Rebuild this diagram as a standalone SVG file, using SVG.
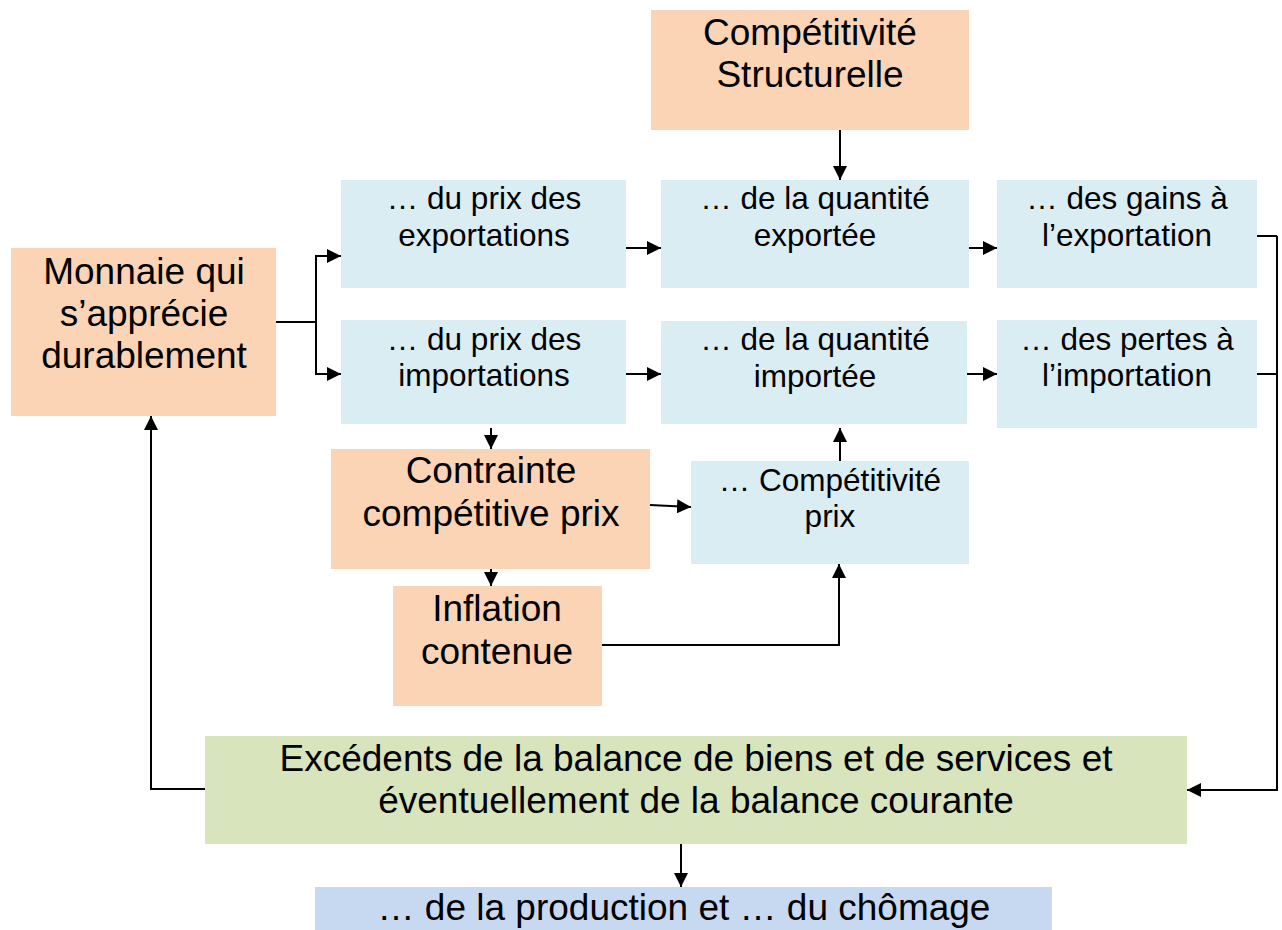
<svg xmlns="http://www.w3.org/2000/svg" width="1282" height="930" viewBox="0 0 1282 930">
<defs>
<marker id="ah" viewBox="0 0 10 10" refX="10" refY="5" markerWidth="14" markerHeight="14" markerUnits="userSpaceOnUse" orient="auto"><path d="M0,0 L10,5 L0,10 Z" fill="#000"/></marker>
<style>
.or{fill:#FAD4B4}
.bl{fill:#DAEDF3}
.gr{fill:#D7E4BC}
.bb{fill:#C6D9F1}
text{font-family:"Liberation Sans",Arial,sans-serif;fill:#000;text-anchor:middle}
.t26{font-size:31.5px}
.t32{font-size:37px}
.c{fill:none;stroke:#000;stroke-width:2}
.a{marker-end:url(#ah)}
</style>
</defs>
<rect width="1282" height="930" fill="#fff"/>
<g id="n-structurelle"><rect class="or" x="651" y="10" width="318" height="120"/><text class="t32" x="810" y="45">Compétitivité</text><text class="t32" x="810" y="87">Structurelle</text></g>
<g id="n-monnaie"><rect class="or" x="11" y="248" width="265" height="168"/><text class="t32" x="144" y="284">Monnaie qui</text><text class="t32" x="144" y="326">s’apprécie</text><text class="t32" x="144" y="368">durablement</text></g>
<g id="n-prixexp"><rect class="bl" x="341" y="180" width="285" height="108"/><text class="t26" x="484" y="209">… du prix des</text><text class="t26" x="484" y="246">exportations</text></g>
<g id="n-qteexp"><rect class="bl" x="661" y="180" width="308" height="108"/><text class="t26" x="815" y="209">… de la quantité</text><text class="t26" x="815" y="246">exportée</text></g>
<g id="n-gains"><rect class="bl" x="997" y="180" width="260" height="108"/><text class="t26" x="1127" y="209">… des gains à</text><text class="t26" x="1127" y="246">l’exportation</text></g>
<g id="n-priximp"><rect class="bl" x="341" y="320" width="285" height="104"/><text class="t26" x="484" y="350">… du prix des</text><text class="t26" x="484" y="386">importations</text></g>
<g id="n-qteimp"><rect class="bl" x="661" y="321" width="306" height="103"/><text class="t26" x="815" y="350">… de la quantité</text><text class="t26" x="815" y="387">importée</text></g>
<g id="n-pertes"><rect class="bl" x="997" y="320" width="260" height="108"/><text class="t26" x="1127" y="350">… des pertes à</text><text class="t26" x="1127" y="386">l’importation</text></g>
<g id="n-contrainte"><rect class="or" x="331" y="449" width="319" height="120"/><text class="t32" x="491" y="483">Contrainte</text><text class="t32" x="491" y="526">compétitive prix</text></g>
<g id="n-compprix"><rect class="bl" x="691" y="461" width="278" height="103"/><text class="t26" x="830" y="491">… Compétitivité</text><text class="t26" x="830" y="527">prix</text></g>
<g id="n-inflation"><rect class="or" x="393" y="586" width="209" height="120"/><text class="t32" x="497" y="621">Inflation</text><text class="t32" x="497" y="664">contenue</text></g>
<g id="n-excedents"><rect class="gr" x="205" y="736" width="982" height="108"/><text class="t32" x="696" y="771">Excédents de la balance de biens et de services et</text><text class="t32" x="696" y="813">éventuellement de la balance courante</text></g>
<g id="n-production"><rect class="bb" x="315" y="887" width="737" height="43"/><text class="t32" x="684" y="920">… de la production et … du chômage</text></g>
<g id="connectors">
<path class="c a" d="M840,130 V180"/>
<path class="c" d="M276,322 H316"/>
<path class="c a" d="M316,322 V256 H341"/>
<path class="c a" d="M316,322 V374 H341"/>
<path class="c a" d="M626,248 H661"/>
<path class="c a" d="M969,248 H997"/>
<path class="c a" d="M626,374 H661"/>
<path class="c a" d="M967,374 H997"/>
<path class="c" d="M1257,236 H1277"/>
<path class="c a" d="M1257,374 H1277 V790 H1187"/>
<path class="c" d="M1277,236 V374"/>
<path class="c a" d="M491,428 V449"/>
<path class="c a" d="M491,569 V586"/>
<path class="c a" d="M650,505 L691,507"/>
<path class="c a" d="M840,461 V428"/>
<path class="c a" d="M602,645 H839 V564"/>
<path class="c a" d="M205,789 H151 V416"/>
<path class="c a" d="M681,844 V887"/>
</g>
</svg>
